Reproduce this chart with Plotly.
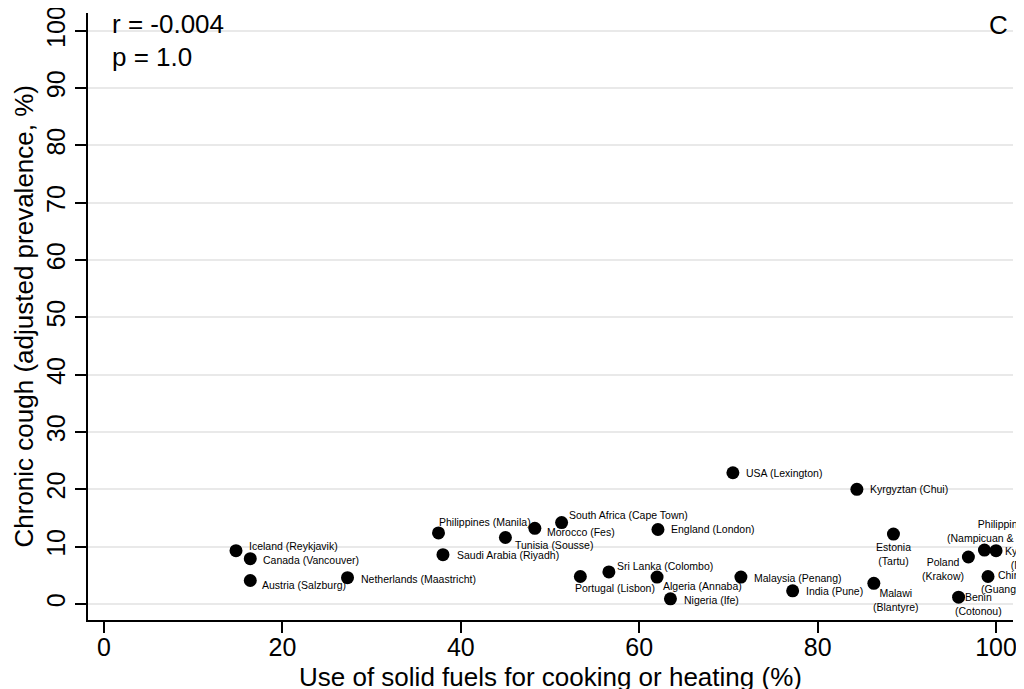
import plotly.graph_objects as go

# ---- data ----
sites = [
    "Iceland (Reykjavik)", "Canada (Vancouver)", "Austria (Salzburg)", "Netherlands (Maastricht)",
    "Philippines (Manila)", "Saudi Arabia (Riyadh)", "Tunisia (Sousse)", "Morocco (Fes)",
    "South Africa (Cape Town)", "England (London)", "USA (Lexington)", "Kyrgyztan (Chui)",
    "Portugal (Lisbon)", "Sri Lanka (Colombo)", "Algeria (Annaba)", "Nigeria (Ife)",
    "Malaysia (Penang)", "India (Pune)", "Malawi<br>(Blantyre)", "Estonia<br>(Tartu)",
    "Poland<br>(Krakow)", "Philippines<br>(Nampicuan & Talugtug)", "Kyrgyztan<br>(Naryn)",
    "China<br>(Guangzhou)", "Benin<br>(Cotonou)",
]
solid_fuel_pct = [
    14.8, 16.4, 16.4, 27.3,
    37.5, 38.0, 45.0, 48.3,
    51.3, 62.1, 70.5, 84.4,
    53.4, 56.6, 62.0, 63.5,
    71.4, 77.2, 86.3, 88.5,
    96.9, 98.7, 100.0,
    99.1, 95.8,
]
chronic_cough_pct = [
    9.3, 7.9, 4.1, 4.6,
    12.4, 8.6, 11.6, 13.2,
    14.2, 13.0, 22.9, 20.0,
    4.8, 5.6, 4.7, 0.9,
    4.7, 2.3, 3.6, 12.2,
    8.2, 9.4, 9.3,
    4.8, 1.2,
]
x_ticks = [0, 20, 40, 60, 80, 100]
y_ticks = [0, 10, 20, 30, 40, 50, 60, 70, 80, 90, 100]
x_title = "Use of solid fuels for cooking or heating (%)"
y_title = "Chronic cough (adjusted prevalence, %)"

# ---- label placement (style): (xanchor, xshift px, yshift px) ----
label_style = [
    ("left", 11, 5), ("left", 11, -1), ("left", 10, -4), ("left", 11.5, -1),
    ("left", -2, 11), ("left", 12, 0), ("left", 8, -7), ("left", 10, -4),
    ("left", 5, 8), ("left", 11.5, 0), ("left", 11.5, 0), ("left", 11, 0),
    ("left", -7, -12), ("left", 6, 6), ("left", 4, -9), ("left", 11.5, -1),
    ("left", 11, -1), ("left", 11, 0), ("center", 22, -17), ("center", 0, -20),
    ("center", -25, -12), ("center", 19, 19), ("center", 32, -7),
    ("center", 23, -6), ("center", 20, -7),
]

FONT = "Liberation Sans, Arial, sans-serif"

fig = go.Figure()
fig.add_trace(go.Scatter(
    x=solid_fuel_pct, y=chronic_cough_pct, mode="markers",
    marker=dict(color="black", size=13, line=dict(width=0)),
    showlegend=False, cliponaxis=False, hoverinfo="skip",
))

annotations = []
for name, xv, yv, (anc, dx, dy) in zip(sites, solid_fuel_pct, chronic_cough_pct, label_style):
    annotations.append(dict(
        x=xv, y=yv, xref="x", yref="y", text=name, showarrow=False,
        xanchor=anc, yanchor="middle", align="center", xshift=dx, yshift=dy,
        font=dict(family=FONT, size=10.5, color="black"),
    ))

big = dict(family=FONT, size=26, color="black")
annotations += [
    dict(x=0.0238, y=0.982, xref="paper", yref="paper", text="r = -0.004", showarrow=False,
         xanchor="left", yanchor="middle", font=big),
    dict(x=0.0238, y=0.927, xref="paper", yref="paper", text="p = 1.0", showarrow=False,
         xanchor="left", yanchor="middle", font=big),
    dict(x=0.984, y=0.980, xref="paper", yref="paper", text="C", showarrow=False,
         xanchor="center", yanchor="middle", font=big),
    dict(x=0.5, y=-0.0939, xref="paper", yref="paper", text=x_title, showarrow=False,
         xanchor="center", yanchor="middle", font=big),
    dict(x=-0.0692, y=0.5, xref="paper", yref="paper", text=y_title, showarrow=False,
         textangle=-90, xanchor="center", yanchor="middle", font=big),
]

# page body has an 8px default margin; size figure so the plot lands where intended
fig.update_layout(
    width=1016, height=681,
    margin=dict(l=80, r=11, t=5, b=69, autoexpand=False),
    paper_bgcolor="white", plot_bgcolor="white",
    font=dict(family=FONT, color="black"),
    annotations=annotations,
    xaxis=dict(
        range=[-1.79, 101.9], tickvals=x_ticks, ticktext=[str(v) for v in x_ticks],
        automargin=False, ticklabeloverflow="allow",
        showgrid=False, zeroline=False, showline=True, linecolor="black", linewidth=1.5,
        ticks="outside", ticklen=11, tickwidth=1.5, tickcolor="black",
        ticklabelstandoff=-7,
        tickfont=dict(family=FONT, size=25, color="black"),
    ),
    yaxis=dict(
        range=[-2.79, 103.1], tickvals=y_ticks, ticktext=[str(v) for v in y_ticks],
        automargin=False, ticklabeloverflow="allow",
        showgrid=True, gridcolor="#e9e9e9", gridwidth=1.5,
        zeroline=False, showline=True, linecolor="black", linewidth=1.5,
        ticks="outside", ticklen=11, tickwidth=1.5, tickcolor="black", tickangle=-90,
        ticklabelstandoff=0,
        tickfont=dict(family=FONT, size=25, color="black"),
    ),
)

fig.write_html("out.html")
